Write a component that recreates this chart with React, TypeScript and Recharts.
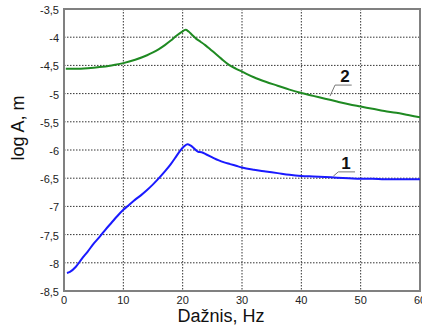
import React from "react";
import {
  LineChart,
  Line,
  XAxis,
  YAxis,
  CartesianGrid,
  ReferenceArea,
  ReferenceLine,
  ReferenceDot,
} from "recharts";

// Curve 1 (blue)
const freqBlue = [0.5, 1, 2, 3, 4, 5, 6, 7, 8, 9, 10, 11, 12, 13, 14, 15, 16, 17, 18, 19, 19.6, 20.3, 20.8, 21.3, 22, 22.6, 23.2, 24, 25, 26, 27, 28, 29, 30, 32, 34, 36, 38, 40, 42, 44, 46, 48, 50, 52, 54, 56, 58, 60];
const ampBlue = [-8.18, -8.16, -8.07, -7.93, -7.8, -7.66, -7.54, -7.41, -7.29, -7.17, -7.06, -6.97, -6.88, -6.8, -6.71, -6.61, -6.5, -6.38, -6.25, -6.1, -6.01, -5.93, -5.9, -5.92, -5.98, -6.03, -6.04, -6.08, -6.13, -6.18, -6.22, -6.25, -6.28, -6.31, -6.35, -6.38, -6.41, -6.44, -6.46, -6.47, -6.48, -6.49, -6.5, -6.51, -6.51, -6.52, -6.52, -6.52, -6.52];

// Curve 2 (green)
const freqGreen = [0.3, 2, 4, 6, 8, 10, 12, 14, 15, 16, 17, 18, 19, 19.8, 20.5, 21, 21.6, 22.3, 23, 23.8, 24.5, 25.5, 26.5, 27.8, 29, 30, 32, 34, 36, 38, 40, 42, 44, 46, 48, 50, 52, 54, 56, 58, 60];
const ampGreen = [-4.56, -4.56, -4.55, -4.53, -4.5, -4.46, -4.4, -4.32, -4.27, -4.21, -4.14, -4.06, -3.97, -3.91, -3.87, -3.9, -3.96, -4.03, -4.08, -4.14, -4.2, -4.29, -4.38, -4.49, -4.56, -4.61, -4.71, -4.79, -4.86, -4.93, -4.99, -5.04, -5.09, -5.14, -5.19, -5.23, -5.27, -5.31, -5.34, -5.38, -5.42];

const xTicks = [0, 10, 20, 30, 40, 50, 60];
const yTicks = [-8.5, -8, -7.5, -7, -6.5, -6, -5.5, -5, -4.5, -4, -3.5];

// Annotation anchors (data coordinates)
const label2 = { x: 47.36, y: -4.695, text: "2" };
const leader2 = [
  { x: 44.83, y: -5.044 },
  { x: 45.68, y: -4.849 },
  { x: 48.49, y: -4.849 },
];
const label1 = { x: 47.53, y: -6.225, text: "1" };
const leader1 = [
  { x: 45.39, y: -6.464 },
  { x: 46.23, y: -6.388 },
  { x: 49.05, y: -6.388 },
];

const blueData = freqBlue.map((f, i) => ({ f, v: ampBlue[i] }));
const greenData = freqGreen.map((f, i) => ({ f, v: ampGreen[i] }));

const FONT = "'Liberation Sans', Arial, sans-serif";
const fmt = (v: number) => String(v).replace(".", ",");

export default function App() {
  return (
    <div style={{ position: "absolute", left: 0, top: 0 }}>
      <LineChart
        width={422}
        height={327}
        margin={{ top: 9, right: 2, bottom: 6, left: 0 }}
      >
        <CartesianGrid
          stroke="#333"
          strokeDasharray="1.5 1.5"
          verticalPoints={undefined}
        />
        <XAxis
          dataKey="f"
          type="number"
          domain={[0, 60]}
          ticks={xTicks}
          interval={0}
          allowDataOverflow
          axisLine={false}
          tickLine={false}
          tickSize={4}
          tickMargin={1}
          height={30}
          tick={{ fill: "#222", fontSize: 11, fontFamily: FONT }}
          label={{
            content: () => (
              <text
                x={221}
                y={322}
                textAnchor="middle"
                fontSize={18}
                fontFamily={FONT}
                fill="#111"
              >
                Dažnis, Hz
              </text>
            ),
          }}
        />
        <YAxis
          type="number"
          domain={[-8.5, -3.5]}
          ticks={yTicks}
          interval={0}
          allowDataOverflow
          axisLine={false}
          tickLine={false}
          tickSize={4}
          tickMargin={1}
          width={64}
          tickFormatter={fmt}
          tick={{ fill: "#222", fontSize: 11, fontFamily: FONT, dy: 1 }}
          label={{
            content: () => (
              <text
                x={17.5}
                y={128}
                textAnchor="middle"
                dominantBaseline="central"
                transform="rotate(-90 17.5 128)"
                fontSize={18}
                fontFamily={FONT}
                fill="#111"
              >
                log A, m
              </text>
            ),
          }}
        />
        <ReferenceArea
          x1={0}
          x2={60}
          y1={-8.5}
          y2={-3.5}
          fill="none"
          fillOpacity={0}
          stroke="#808080"
          strokeWidth={2}
        />
        <Line
          data={greenData}
          dataKey="v"
          type="monotone"
          stroke="#1f8a22"
          strokeWidth={2}
          dot={false}
          isAnimationActive={false}
        />
        <Line
          data={blueData}
          dataKey="v"
          type="monotone"
          stroke="#1a1aff"
          strokeWidth={2}
          dot={false}
          isAnimationActive={false}
        />
        <ReferenceLine
          segment={[leader2[0], leader2[1]]}
          stroke="#777"
          strokeWidth={1}
        />
        <ReferenceLine
          segment={[leader2[1], leader2[2]]}
          stroke="#777"
          strokeWidth={1}
        />
        <ReferenceLine
          segment={[leader1[0], leader1[1]]}
          stroke="#777"
          strokeWidth={1}
        />
        <ReferenceLine
          segment={[leader1[1], leader1[2]]}
          stroke="#777"
          strokeWidth={1}
        />
        <ReferenceDot
          x={label2.x}
          y={label2.y}
          r={0}
          fill="none"
          stroke="none"
          label={{
            value: label2.text,
            position: "center",
            fontSize: 17,
            fontWeight: "bold",
            fontFamily: FONT,
            fill: "#111",
          }}
        />
        <ReferenceDot
          x={label1.x}
          y={label1.y}
          r={0}
          fill="none"
          stroke="none"
          label={{
            value: label1.text,
            position: "center",
            fontSize: 17,
            fontWeight: "bold",
            fontFamily: FONT,
            fill: "#111",
          }}
        />
      </LineChart>
    </div>
  );
}
